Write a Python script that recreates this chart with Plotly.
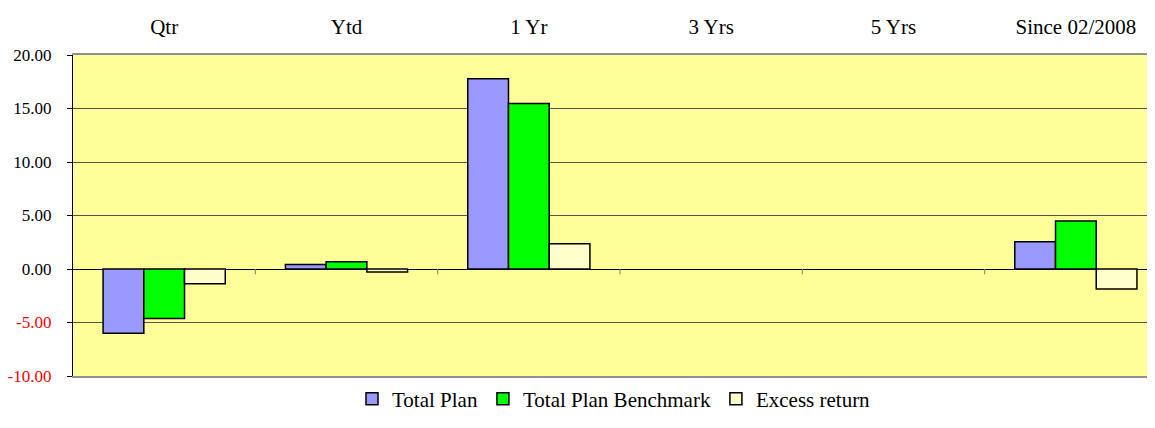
import plotly.graph_objects as go

categories = ["Qtr", "Ytd", "1 Yr", "3 Yrs", "5 Yrs", "Since 02/2008"]
total_plan = [-6.00, 0.43, 17.77, None, None, 2.55]
benchmark = [-4.62, 0.68, 15.46, None, None, 4.49]
excess = [-1.38, -0.28, 2.37, None, None, -1.87]
tick_vals = [20, 15, 10, 5, 0, -5, -10]

FONT = "Liberation Serif"

fig = go.Figure()
for name, vals, color in [("Total Plan", total_plan, "#9999FF"),
                          ("Total Plan Benchmark", benchmark, "#00FF00"),
                          ("Excess return", excess, "#FFFFCC")]:
    fig.add_trace(go.Bar(x=categories, y=vals, name=name,
                         marker=dict(color=color, line=dict(color="black", width=1.5))))

tick_text = [f"<span style='color:red'>{v:.2f}</span>" if v < 0 else f"{v:.2f}" for v in tick_vals]

fig.update_layout(
    width=1147, height=420,
    margin=dict(l=65, r=0, t=47, b=52, autoexpand=False),
    paper_bgcolor="white", plot_bgcolor="#FFFF99",
    font=dict(family=FONT, size=21, color="black"),
    barmode="group", bargap=0.33, bargroupgap=0,
    showlegend=True,
    legend=dict(orientation="h", x=0.5, xanchor="center", y=-0.072, yanchor="middle",
                font=dict(family=FONT, size=21), itemwidth=30, traceorder="normal"),
    xaxis=dict(side="top", showgrid=False, ticks="", showline=True, linecolor="#909090",
               linewidth=2, mirror=True, range=[-0.5, 5.434], automargin=False,
               tickfont=dict(family=FONT, size=21), ticklabelstandoff=11),
    yaxis=dict(range=[-10, 20], tickvals=tick_vals, ticktext=tick_text, automargin=False,
               showgrid=True, gridcolor="#555555", gridwidth=1,
               zeroline=True, zerolinecolor="black", zerolinewidth=1.2,
               showline=True, linecolor="black", linewidth=1.2,
               ticks="outside", ticklen=5, tickcolor="black",
               ticklabelstandoff=12, tickfont=dict(family=FONT, size=17)),
)
# category separator ticks on the zero line
for i in range(len(categories) - 1):
    fig.add_shape(type="line", xref="x", yref="y", x0=i + 0.5, x1=i + 0.5, y0=0, y1=-0.5,
                  line=dict(color="#808080", width=1))

fig.write_html("out.html")
